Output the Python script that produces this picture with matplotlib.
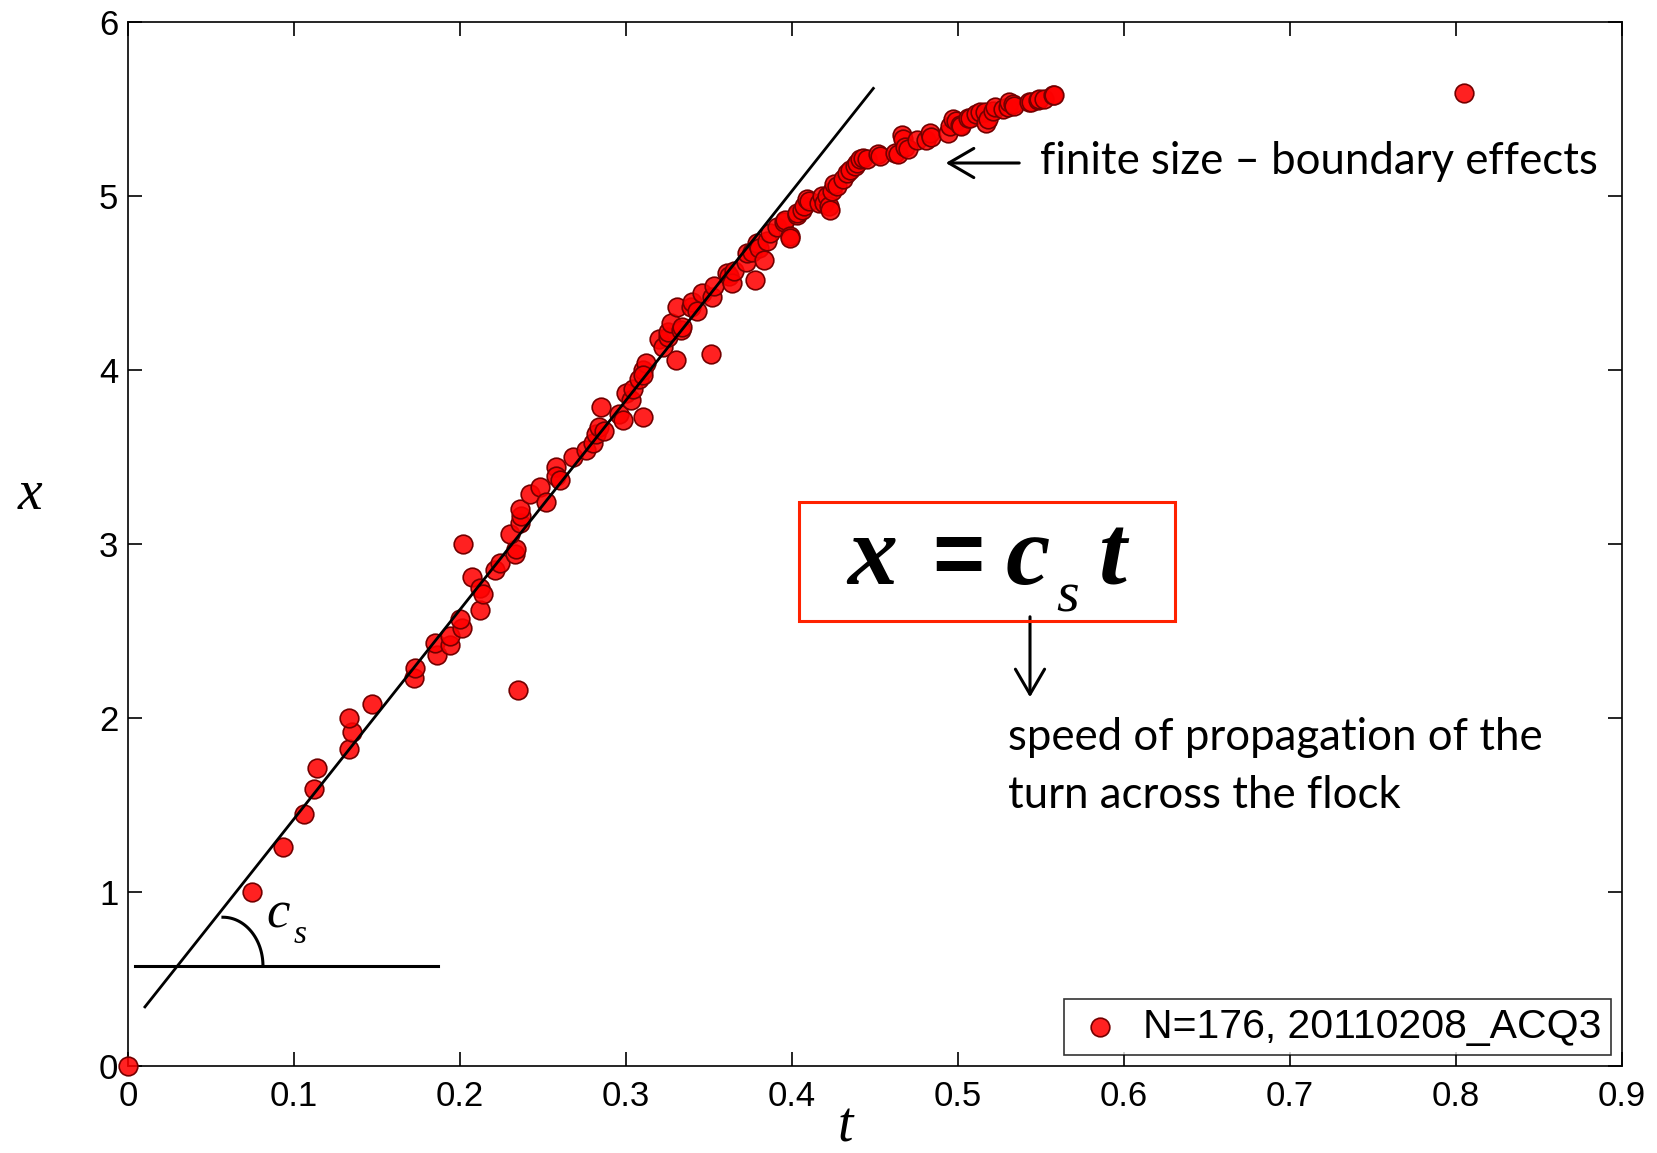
import numpy as np
import matplotlib
matplotlib.use("Agg")
import matplotlib.pyplot as plt
from matplotlib.patches import FancyArrowPatch, Rectangle

# ---------------- data ----------------
t_vals = [0.000, 0.0746, 0.0931, 0.106, 0.112, 0.114, 0.133, 0.135, 0.133, 0.147,
          0.172, 0.173, 0.186, 0.185, 0.194, 0.194, 0.201, 0.200, 0.202, 0.207,
          0.212, 0.212, 0.214, 0.221, 0.224, 0.235, 0.233, 0.234, 0.230, 0.236,
          0.237, 0.236, 0.242, 0.248, 0.252, 0.258, 0.258, 0.260, 0.268, 0.276,
          0.280, 0.282, 0.284, 0.285, 0.287, 0.296, 0.298, 0.300, 0.303, 0.304,
          0.310, 0.308, 0.310, 0.312, 0.310, 0.320, 0.322, 0.325, 0.325, 0.327,
          0.330, 0.331, 0.333, 0.334, 0.339, 0.340, 0.343, 0.346, 0.351, 0.352,
          0.353, 0.361, 0.362, 0.364, 0.365, 0.372, 0.373, 0.376, 0.378, 0.379,
          0.380, 0.383, 0.385, 0.387, 0.391, 0.395, 0.396, 0.399, 0.399, 0.403,
          0.403, 0.406, 0.407, 0.409, 0.410, 0.416, 0.418, 0.419, 0.421, 0.422,
          0.423, 0.424, 0.425, 0.427, 0.431, 0.433, 0.435, 0.438, 0.439, 0.441,
          0.443, 0.445, 0.452, 0.453, 0.462, 0.464, 0.466, 0.467, 0.468, 0.470,
          0.475, 0.481, 0.483, 0.484, 0.494, 0.495, 0.497, 0.499, 0.501, 0.502,
          0.506, 0.507, 0.511, 0.513, 0.516, 0.517, 0.518, 0.521, 0.522, 0.527,
          0.530, 0.531, 0.533, 0.534, 0.543, 0.544, 0.548, 0.549, 0.552, 0.557,
          0.558, 0.805]
x_vals = [0.00, 1.00, 1.26, 1.45, 1.59, 1.71, 1.82, 1.92, 2.00, 2.08,
          2.23, 2.29, 2.36, 2.43, 2.42, 2.47, 2.52, 2.57, 3.00, 2.81,
          2.62, 2.75, 2.71, 2.85, 2.89, 2.16, 2.94, 2.97, 3.06, 3.12,
          3.16, 3.20, 3.29, 3.33, 3.24, 3.44, 3.39, 3.37, 3.50, 3.54,
          3.58, 3.63, 3.67, 3.79, 3.65, 3.75, 3.71, 3.87, 3.83, 3.89,
          3.73, 3.95, 4.00, 4.04, 3.97, 4.18, 4.13, 4.19, 4.22, 4.27,
          4.06, 4.36, 4.23, 4.25, 4.36, 4.39, 4.34, 4.44, 4.09, 4.42,
          4.48, 4.56, 4.54, 4.50, 4.57, 4.62, 4.67, 4.68, 4.52, 4.73,
          4.70, 4.63, 4.74, 4.79, 4.82, 4.85, 4.86, 4.77, 4.76, 4.89,
          4.90, 4.92, 4.94, 4.98, 4.97, 4.96, 5.00, 4.96, 5.00, 4.94,
          4.92, 5.03, 5.07, 5.06, 5.10, 5.13, 5.15, 5.17, 5.19, 5.21,
          5.22, 5.21, 5.24, 5.23, 5.25, 5.24, 5.35, 5.33, 5.28, 5.27,
          5.32, 5.32, 5.36, 5.34, 5.36, 5.40, 5.44, 5.43, 5.41, 5.40,
          5.45, 5.45, 5.47, 5.48, 5.48, 5.42, 5.44, 5.49, 5.51, 5.50,
          5.51, 5.54, 5.53, 5.52, 5.54, 5.54, 5.55, 5.56, 5.56, 5.58,
          5.58, 5.59]

legend_label = "N=176, 20110208_ACQ3"
x_ticks = [0, 0.1, 0.2, 0.3, 0.4, 0.5, 0.6, 0.7, 0.8, 0.9]
x_ticklabels = ["0", "0.1", "0.2", "0.3", "0.4", "0.5", "0.6", "0.7", "0.8", "0.9"]
y_ticks = [0, 1, 2, 3, 4, 5, 6]
y_ticklabels = ["0", "1", "2", "3", "4", "5", "6"]

# linear fit x = c_s t + b
c_s = 12.03
b_fit = 0.217
t_fit = [0.0102, 0.449]

# ---------------- figure ----------------
W, H = 1657, 1153
fig = plt.figure(figsize=(W / 100, H / 100), dpi=100)
L, R, B, T = 128, 1622, 1066, 22
ax = fig.add_axes([L / W, 1 - B / H, (R - L) / W, (B - T) / H])

def fx(px):
    return px / W

def fy(py):
    return 1 - py / H

ax.scatter(t_vals, x_vals, s=180, facecolor=(1, 0, 0, 0.87),
           edgecolor=(0.45, 0, 0, 1), linewidth=1.2, zorder=3, clip_on=False,
           label=legend_label)

ax.plot(t_fit, [c_s * v + b_fit for v in t_fit], color="black", lw=2, zorder=4)

ax.set_xlim(0, 0.9)
ax.set_ylim(0, 6)
ax.set_xticks(x_ticks)
ax.set_xticklabels(x_ticklabels, fontsize=25, family="Liberation Sans")
ax.set_yticks(y_ticks)
ax.set_yticklabels(y_ticklabels, fontsize=25, family="Liberation Sans")
ax.tick_params(direction="in", length=10, width=1.2, top=True, right=True)
ax.tick_params(axis="x", pad=10)
ax.tick_params(axis="y", pad=7)
for sp in ax.spines.values():
    sp.set_linewidth(1.2)

# legend
leg = ax.legend(loc="lower right", frameon=True, fancybox=False,
                edgecolor="black", borderaxespad=0.28, handletextpad=0.4,
                handlelength=1.3, borderpad=0.22, markerscale=1.0,
                prop={"family": "Liberation Sans", "size": 29.5})
leg.get_frame().set_linewidth(1.2)

# horizontal reference line and angle arc (annotation)
ax.plot([0.0042, 0.187], [0.575, 0.575], color="black", lw=2.2, zorder=4)
a = np.linspace(0, np.pi / 2, 60)
ax.plot(0.0572 + 0.0241 * np.cos(a), 0.575 + 0.28 * np.sin(a),
        color="black", lw=2.2, zorder=4)
fig.text(fx(278), fy(915), "c", family="Liberation Serif", style="italic",
         fontsize=38, ha="center", va="center")
fig.text(fx(300), fy(935), "s", family="Liberation Serif", style="italic",
         fontsize=24, ha="center", va="center")

# axis labels
fig.text(fx(30), fy(495), "x", family="Liberation Serif", style="italic",
         fontsize=40, ha="center", va="center")
fig.text(fx(845), fy(1127), "t", family="Liberation Serif", style="italic",
         fontsize=40, ha="center", va="center")

# formula box
box = Rectangle((fx(799), fy(621)), fx(1175) - fx(799), fy(502) - fy(621),
                transform=fig.transFigure, fill=False, edgecolor="#ff2200",
                lw=2.2, zorder=5)
fig.add_artist(box)
serif = dict(family="Liberation Serif", style="italic", weight="bold",
             ha="center", va="baseline")
fig.text(fx(872), fy(584), "x", fontsize=72, **serif)
fig.text(fx(958), fy(584), "=", family="Liberation Sans", weight="bold",
         fontsize=64, ha="center", va="baseline")
fig.text(fx(1028), fy(584), "c", fontsize=72, **serif)
fig.text(fx(1068), fy(612), "s", family="Liberation Serif", style="italic",
         fontsize=42, ha="center", va="baseline")
fig.text(fx(1113), fy(584), "t", fontsize=72, **serif)

# arrow below box
fig.add_artist(FancyArrowPatch(
    (fx(1030), fy(614)), (fx(1030), fy(700)), transform=fig.transFigure,
    arrowstyle="->,head_length=12,head_width=7", color="black", lw=2.2,
    mutation_scale=1.5))
fig.text(fx(1008), fy(737), "speed of propagation of the", family="Lato",
         fontsize=31.5, ha="left", va="center")
fig.text(fx(1008), fy(795), "turn across the flock", family="Lato",
         fontsize=31.5, ha="left", va="center")

# finite size annotation
fig.add_artist(FancyArrowPatch(
    (fx(1022), fy(163)), (fx(943), fy(163)), transform=fig.transFigure,
    arrowstyle="->,head_length=12,head_width=7", color="black", lw=2.2,
    mutation_scale=1.5))
fig.text(fx(1040), fy(162), "finite size \u2013 boundary effects", family="Lato",
         fontsize=31.5, ha="left", va="center")

fig.savefig("out.png", dpi=100)
